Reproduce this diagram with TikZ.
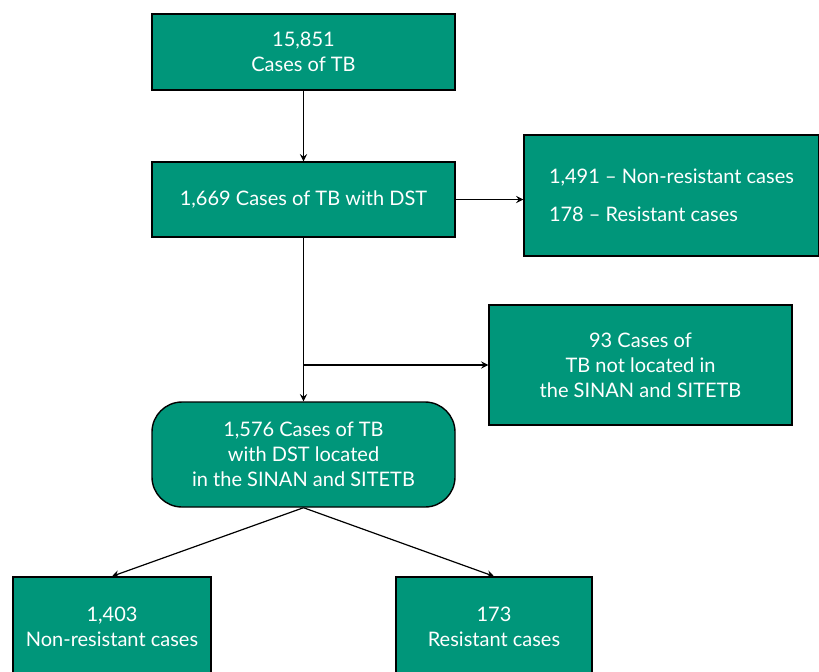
\documentclass[tikz,border=0pt]{standalone}
\usepackage{fontspec}
\setmainfont{Lato}
\usetikzlibrary{shapes,arrows}
\definecolor{tbgreen}{RGB}{0,150,122}
\tikzstyle{b} = [rectangle, fill=tbgreen, draw=black, line width=0.7pt, text=white, align=center, inner sep=0pt, font=\fontsize{10}{12.5}\selectfont]
\tikzstyle{rb} = [b, rounded corners=15pt]

\begin{document}
\begin{tikzpicture}[x=0.5pt, y=-0.5pt, >=stealth]
		\useasboundingbox (0,0) rectangle (819,671);
		\clip (0,0) rectangle (819,671);
		\node[b, minimum width=151.5pt, minimum height=38pt](total) at (303.5,52){15,851\\Cases of TB};
		\node[b, minimum width=151.5pt, minimum height=37.5pt](dst) at (303.5,199.5){1,669 Cases of TB with DST};
		\node[b, minimum width=147.5pt, minimum height=60.5pt, align=left](split) at (671.5,195.5){1,491 -- Non-resistant cases\\[6.5pt]178 -- Resistant cases};
		\node[b, minimum width=151.5pt, minimum height=60pt](notfound) at (640.5,365){93 Cases of\\TB not located in\\the SINAN and SITETB};
		\node[rb, minimum width=151.5pt, minimum height=52.5pt](found) at (303.5,454.5){1,576 Cases of TB\\with DST located\\in the SINAN and SITETB};
		\node[b, minimum width=99pt, minimum height=50pt](nonres) at (112,627){1,403\\Non-resistant cases};
		\node[b, minimum width=98pt, minimum height=50pt](res) at (494,627){173\\Resistant cases};
		\coordinate (branch) at (303.5,365);

		\draw[->, line width=0.6pt](total)--(dst);
		\draw[->, line width=0.6pt](dst.east)--(dst.east -| split.west);
		\draw[->, line width=0.6pt](dst)--(found);
		\draw[->, line width=0.6pt](branch)--(notfound);
		\draw[->, line width=0.6pt](found.south)--(nonres.north);
		\draw[->, line width=0.6pt](found.south)--(res.north);
	\end{tikzpicture}
\end{document}
